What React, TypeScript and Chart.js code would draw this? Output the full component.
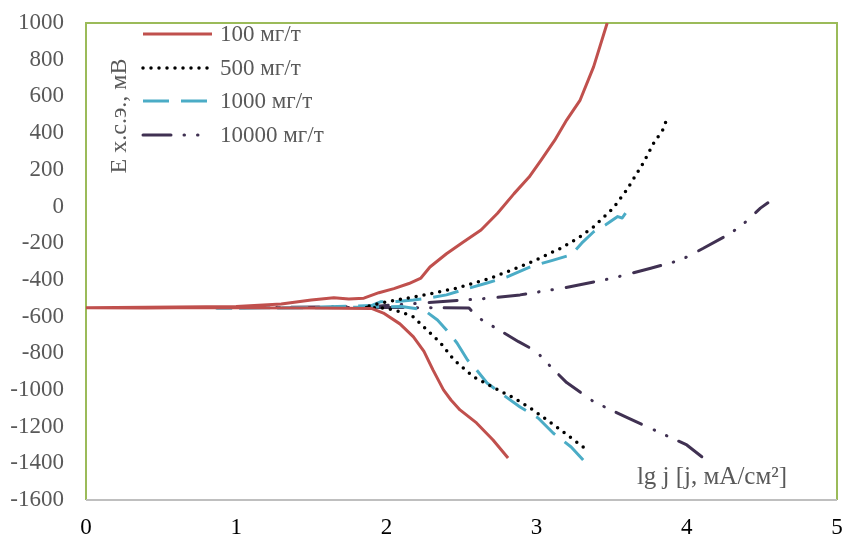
import React, { useEffect, useRef } from "react";
import { Chart, registerables } from "chart.js";

Chart.register(...registerables);

// ---- data (lg j, E mV) ----
const lg100 = [2.81, 2.71, 2.6, 2.49, 2.43, 2.38, 2.31, 2.25, 2.18, 2.09, 1.98, 1.9, 1.5, 1.0, 0.6, 0.4, 0.0, 1.0, 1.3, 1.5, 1.65, 1.75, 1.85, 1.95, 2.05, 2.15, 2.23, 2.29, 2.4, 2.51, 2.63, 2.74, 2.85, 2.95, 3.03, 3.12, 3.2, 3.29, 3.38, 3.47];
const e100 = [-1371, -1273, -1180, -1109, -1055, -1000, -891, -790, -711, -640, -581, -556, -553, -552, -552, -553, -552, -545, -532, -510, -498, -505, -500, -470, -448, -420, -390, -330, -258, -195, -128, -37, 70, 160, 253, 360, 471, 580, 762, 1000];

const lg500 = [3.31, 3.18, 3.07, 2.96, 2.85, 2.72, 2.58, 2.45, 2.36, 2.27, 2.18, 2.1, 2.0, 1.85, 1.96, 2.1, 2.25, 2.47, 2.69, 2.87, 3.0, 3.16, 3.28, 3.38, 3.51, 3.6, 3.71, 3.78, 3.84, 3.87];
const e500 = [-1311, -1230, -1164, -1100, -1044, -990, -929, -837, -744, -673, -602, -575, -555, -550, -527, -505, -483, -445, -392, -335, -290, -228, -170, -111, -9, 90, 237, 346, 417, 482];

const lg1000 = [3.31, 3.23, 3.11, 3.01, 2.89, 2.76, 2.67, 2.6, 2.54, 2.47, 2.4, 2.34, 2.25, 2.1, 1.9, 1.5, 0.87, 1.5, 1.9, 1.96, 2.07, 2.18, 2.3, 2.4, 2.53, 2.67, 2.8, 2.96, 3.1, 3.23, 3.3, 3.38, 3.46, 3.54, 3.57, 3.63];
const e1000 = [-1382, -1311, -1235, -1153, -1093, -1017, -962, -891, -837, -744, -673, -619, -564, -545, -548, -553, -555, -550, -540, -520, -518, -510, -497, -482, -450, -417, -385, -328, -295, -264, -200, -138, -100, -55, -63, 8];

const lg10000 = [4.1, 4.0, 3.83, 3.6, 3.38, 3.2, 3.05, 3.0, 2.88, 2.75, 2.68, 2.6, 2.55, 2.0, 1.05, 1.9, 1.96, 2.23, 2.51, 2.69, 2.89, 3.18, 3.51, 3.76, 3.96, 4.11, 4.29, 4.38, 4.49, 4.54];
const e10000 = [-1364, -1300, -1236, -1150, -1064, -960, -837, -790, -737, -673, -640, -601, -553, -551, -551, -545, -542, -527, -510, -500, -482, -444, -390, -337, -292, -228, -147, -93, -9, 20];

const seriesNames = ["100 мг/т", "500 мг/т", "1000 мг/т", "10000 мг/т"];
const xTicks = [0, 1, 2, 3, 4, 5];
const yTitle = "Е х.с.э., мВ";
const xTitle = "lg j [j, мА/см²]";

const FONT = "'Liberation Serif', 'Times New Roman', serif";

const styles = [
  { color: "#C0504D", width: 3, dash: [] as number[], cap: "butt" },
  { color: "#000000", width: 3.5, dash: [0, 8], cap: "round" },
  { color: "#4BACC6", width: 3, dash: [26, 12], cap: "butt" },
  { color: "#403152", width: 3, dash: [28, 13, 0.5, 13, 0.5, 14], cap: "round" },
];

const toPts = (xs: number[], ys: number[]) => xs.map((x, i) => ({ x, y: ys[i] }));

export default function App() {
  const ref = useRef<HTMLCanvasElement | null>(null);

  useEffect(() => {
    if (!ref.current) return;
    const sets = [
      toPts(lg100, e100),
      toPts(lg500, e500),
      toPts(lg1000, e1000),
      toPts(lg10000, e10000),
    ];

    const decor = {
      id: "decor",
      beforeDatasetsDraw(chart: any) {
        const { ctx, chartArea: a } = chart;
        ctx.save();
        ctx.lineWidth = 2;
        ctx.strokeStyle = "#9BBB59";
        ctx.beginPath();
        ctx.moveTo(a.left, a.bottom);
        ctx.lineTo(a.left, a.top);
        ctx.lineTo(a.right, a.top);
        ctx.lineTo(a.right, a.bottom);
        ctx.stroke();
        ctx.strokeStyle = "#BFBFBF";
        ctx.beginPath();
        ctx.moveTo(a.left, a.bottom);
        ctx.lineTo(a.right, a.bottom);
        ctx.stroke();
        ctx.restore();
      },
      afterDatasetsDraw(chart: any) {
        const { ctx } = chart;
        ctx.save();
        // legend
        const rows = [34, 68, 101, 135];
        seriesNames.forEach((name, i) => {
          const s = styles[i];
          ctx.strokeStyle = s.color;
          ctx.lineWidth = s.width;
          ctx.lineCap = s.cap;
          ctx.setLineDash(s.dash);
          ctx.beginPath();
          ctx.moveTo(143, rows[i]);
          ctx.lineTo(212, rows[i]);
          ctx.stroke();
          ctx.setLineDash([]);
          ctx.fillStyle = "#595959";
          ctx.font = `23px ${FONT}`;
          ctx.textAlign = "left";
          ctx.textBaseline = "middle";
          ctx.fillText(name, 220, rows[i] + 1);
        });
        // y title
        ctx.save();
        ctx.translate(120, 116);
        ctx.rotate(-Math.PI / 2);
        ctx.textAlign = "center";
        ctx.textBaseline = "middle";
        ctx.fillStyle = "#595959";
        ctx.font = `24px ${FONT}`;
        ctx.fillText(yTitle, 0, 0);
        ctx.restore();
        // x title
        ctx.fillStyle = "#595959";
        ctx.font = `25px ${FONT}`;
        ctx.textAlign = "center";
        ctx.textBaseline = "middle";
        ctx.fillText(xTitle, 712, 477);
        ctx.restore();
      },
    };

    const chart = new Chart(ref.current, {
      type: "scatter",
      data: {
        datasets: sets.map((d, i) => ({
          label: seriesNames[i],
          data: d,
          showLine: true,
          pointRadius: 0,
          borderColor: styles[i].color,
          backgroundColor: styles[i].color,
          borderWidth: styles[i].width,
          borderDash: styles[i].dash,
          borderCapStyle: styles[i].cap as any,
          borderJoinStyle: "round" as any,
          tension: 0,
          fill: false,
        })),
      },
      options: {
        responsive: false,
        animation: false,
        layout: { padding: { left: 0, top: 23, right: 6, bottom: 0 } },
        plugins: { legend: { display: false }, tooltip: { enabled: false } },
        scales: {
          x: {
            type: "linear",
            min: 0,
            max: 5,
            afterFit: (s: any) => {
              s.height = 38;
              s.paddingLeft = 0;
              s.paddingRight = 0;
            },
            afterBuildTicks: (s: any) => { s.ticks = xTicks.map((v) => ({ value: v })); },
            grid: { display: false, drawTicks: false },
            border: { display: false },
            ticks: { color: "#000000", padding: 14, font: { family: FONT, size: 23 }, callback: (v: any) => String(v) },
          },
          y: {
            type: "linear",
            min: -1600,
            max: 1000,
            afterFit: (s: any) => {
              s.width = 86;
              s.paddingTop = 0;
              s.paddingBottom = 0;
            },
            grid: { display: false, drawTicks: false },
            border: { display: false },
            ticks: { stepSize: 200, color: "#595959", padding: 22, font: { family: FONT, size: 23 }, callback: (v: any) => String(v) },
          },
        },
      },
      plugins: [decor],
    });
    return () => chart.destroy();
  }, []);

  return (
    <div style={{ position: "absolute", left: 0, top: 0, width: 843, height: 538, background: "#fff" }}>
      <canvas ref={ref} width={843} height={538} style={{ display: "block" }} />
    </div>
  );
}
